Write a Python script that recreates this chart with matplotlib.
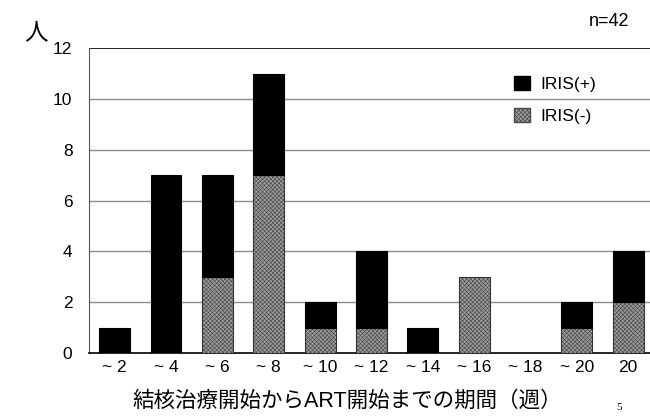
import numpy as np
import matplotlib
matplotlib.use('Agg')
import matplotlib.pyplot as plt
from matplotlib.patches import Patch

plt.rcParams['font.family'] = ['Liberation Sans', 'Noto Sans CJK JP', 'DejaVu Sans']
plt.rcParams['hatch.linewidth'] = 0.45

# weeks from start of TB treatment to start of ART
categories = ['~ 2', '~ 4', '~ 6', '~ 8', '~ 10', '~ 12', '~ 14', '~ 16', '~ 18', '~ 20', '20']
iris_neg = [0, 0, 3, 7, 1, 1, 0, 3, 0, 1, 2]
iris_pos = [1, 7, 4, 4, 1, 3, 1, 0, 0, 1, 2]
yticks = [0, 2, 4, 6, 8, 10, 12]

fig = plt.figure(figsize=(6.5, 4.2), dpi=100)
ax = fig.add_axes([0.137, 0.1595, 0.869, 0.726])

x = np.arange(len(categories))
w = 0.6
neg = np.array(iris_neg)
pos = np.array(iris_pos)
grey = '#9c9c9c'
hatch = 'xxxxxxxx'

# IRIS(-): grey checker fill
ax.bar(x, neg, w, color=grey, edgecolor='#4a4a4a', hatch=hatch,
       linewidth=0, zorder=3)
ax.bar(x[neg > 0], neg[neg > 0], w, facecolor='none', edgecolor='#333333',
       linewidth=0.8, zorder=4)
# IRIS(+): black on top
ax.bar(x[pos > 0], pos[pos > 0], w, bottom=neg[pos > 0], color='black',
       edgecolor='black', linewidth=0.8, zorder=4)

ax.set_xlim(-0.5, len(categories) - 0.5)
ax.set_ylim(0, 12)
ax.set_yticks(yticks)
ax.set_xticks(x)
ax.set_xticklabels(categories)
ax.tick_params(axis='both', length=0, labelsize=12.5)
ax.tick_params(axis='y', pad=12)
ax.tick_params(axis='x', pad=5)

for v in yticks[1:-1]:
    ax.axhline(v, color='#8c8c8c', linewidth=1.0, zorder=1)
ax.axhline(12, color='black', linewidth=1.2, zorder=1)

for s in ['top', 'right']:
    ax.spines[s].set_visible(False)
ax.spines['left'].set_color('#555555')
ax.spines['bottom'].set_color('black')
ax.spines['bottom'].set_linewidth(1.2)

handles = [Patch(facecolor='black', edgecolor='black', label='IRIS(+)'),
           Patch(facecolor=grey, edgecolor='#4a4a4a', hatch=hatch, label='IRIS(-)')]
ax.legend(handles=handles, loc='upper left', bbox_to_anchor=(0.725, 0.96),
          frameon=False, fontsize=12.5, handlelength=0.9, handleheight=0.9,
          handletextpad=0.6, labelspacing=0.9)

fig.text(0.055, 0.92, '人', fontsize=17, ha='center', va='center')
fig.text(0.937, 0.948, 'n=42', fontsize=13, ha='center', va='center')
fig.text(0.535, 0.045, '結核治療開始からART開始までの期間（週）', fontsize=15.5,
         ha='center', va='center')
fig.text(0.953, 0.03, '5', fontsize=8, family='Liberation Serif',
         ha='center', va='center')

fig.savefig('out.png', dpi=100)
